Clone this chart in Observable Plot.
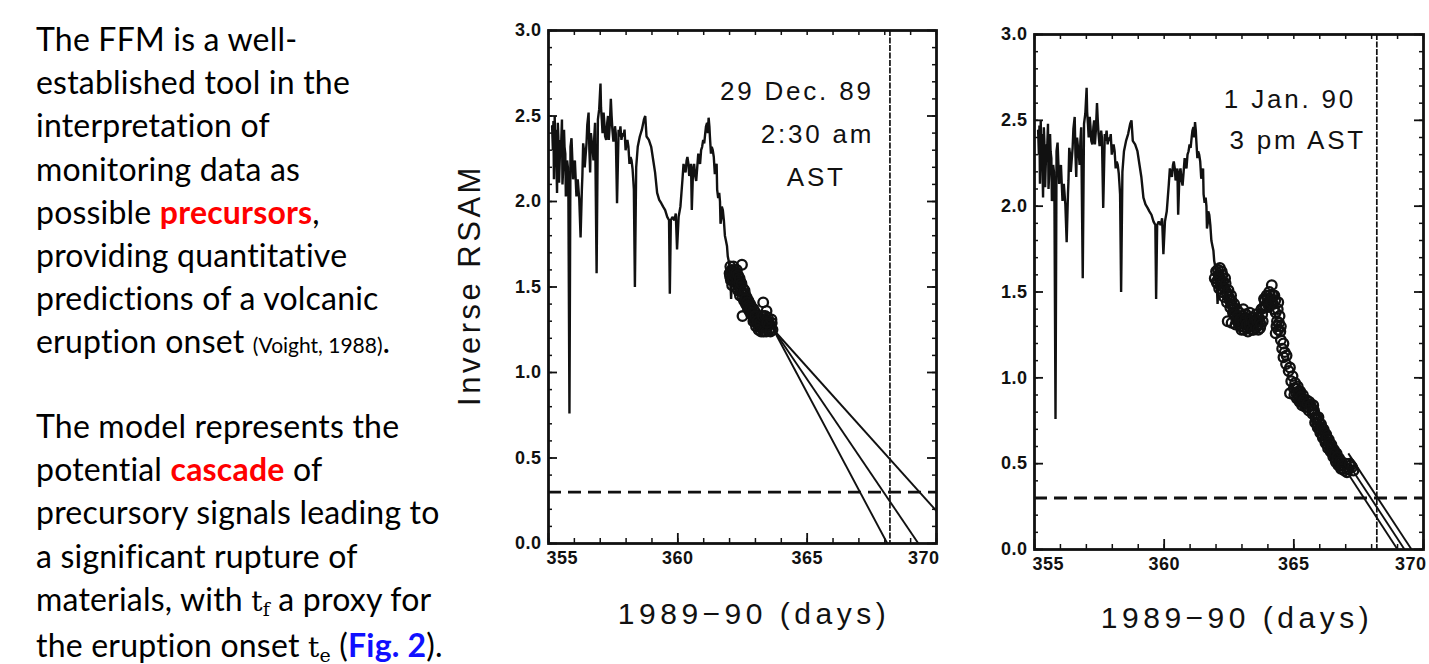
<!DOCTYPE html>
<html>
<head>
<meta charset="utf-8">
<script src="https://cdn.jsdelivr.net/npm/d3@7"></script>
<script src="https://cdn.jsdelivr.net/npm/@observablehq/plot@0.6"></script>
<style>
  html, body { margin: 0; padding: 0; background: #fff; }
  body { width: 1429px; height: 664px; position: relative; overflow: hidden; }
  .para { position: absolute; left: 36px; font-family: Lato, "Open Sans", sans-serif; font-size: 32px;
          letter-spacing: 0.2px; line-height: 43.2px; color: #000; white-space: nowrap; }
  .red { color: #ff0000; font-weight: bold; }
  .blue { color: #1010ff; font-weight: bold; }
  .sm { font-size: 21px; letter-spacing: 0; }
  .m { font-family: "DejaVu Serif", "Liberation Serif", serif; font-size: 28px; }
  .m sub { font-size: 19px; vertical-align: -5px; line-height: 0; }
  .chart { position: absolute; top: 0; }
  .title { position: absolute; font-family: "Liberation Sans", Arial, sans-serif; color: #111; white-space: nowrap; }
  #ylab { left: 470px; top: 285px; font-size: 31px; letter-spacing: 3.5px; transform: translate(-50%, -50%) rotate(-90deg); }
  .xlab { font-size: 30px; letter-spacing: 4.5px; transform: translate(-50%, -50%); }
  .chart g[aria-label="text"] text { letter-spacing: 2.8px; }
  .chart g[aria-label$="tick label"] text { letter-spacing: 0.5px; }
</style>
</head>
<body>
<div class="para" style="top:17px">
The FFM is a well-<br>
established tool in the<br>
interpretation of<br>
monitoring data as<br>
possible <span class="red">precursors</span>,<br>
providing quantitative<br>
predictions of a volcanic<br>
eruption onset <span class="sm">(Voight, 1988)</span>.
</div>
<div class="para" style="top:404px">
The model represents the<br>
potential <span class="red">cascade</span> of<br>
precursory signals leading to<br>
a significant rupture of<br>
materials, with <span class="m">t<sub>f</sub></span> a proxy for<br>
the eruption onset <span class="m">t<sub>e</sub></span> (<span class="blue">Fig. 2</span>).
</div>

<div id="ylab" class="title">Inverse RSAM</div>
<div class="title xlab" style="left:754px; top:614px">1989−90 (days)</div>
<div class="title xlab" style="left:1237px; top:618px">1989−90 (days)</div>

<div id="c1" class="chart" style="left:490px"></div>
<div id="c2" class="chart" style="left:975px"></div>

<script>
// ---------------- data ----------------
// Inverse RSAM record [day of 1989-90, value]: main trace
const rsamMain = [
  [355.14,2.44],[355.21,2.13],[355.24,2.50],[355.31,2.20],[355.36,2.46],[355.41,2.11],[355.46,2.36],[355.52,2.48],
  [355.57,2.20],[355.62,2.32],[355.67,2.03],[355.72,2.24],[355.77,2.01],[355.81,0.76],[355.85,2.32],[355.89,2.37],
  [355.95,2.13],[356.02,2.24],[356.08,2.03],[356.13,2.13],[356.19,2.01],[356.24,1.79],[356.29,2.07],[356.34,2.34],
  [356.40,2.20],[356.47,2.34],[356.55,2.52],[356.61,2.17],[356.68,2.34],[356.74,2.24],[356.80,2.46],[356.86,1.58],
  [356.91,2.48],[356.96,2.54],[357.01,2.69],[357.06,2.48],[357.13,2.52],[357.19,2.38],[357.27,2.46],[357.33,2.36],
  [357.41,2.60],[357.47,2.42],[357.54,2.38],[357.60,2.40],[357.65,1.99],[357.71,2.42],[357.78,2.44],[357.86,2.40],
  [357.94,2.42],[358.02,2.34],[358.09,2.32],[358.17,2.26],[358.25,2.19],[358.30,2.07],[358.34,1.50],[358.39,2.20],
  [358.45,2.32],[358.53,2.38],[358.61,2.42],[358.69,2.48],[358.74,2.50],[358.79,2.38],[358.88,2.36],[358.97,2.32],
  [359.05,2.24],[359.12,2.17],[359.20,2.05],[359.28,2.01],[359.36,1.99],[359.43,1.97],[359.51,1.95],[359.59,1.91],
  [359.66,1.89],[359.69,1.46],[359.73,1.89],[359.79,1.91],[359.87,1.89],[359.92,1.93],[359.97,1.72],[360.03,1.91],
  [360.10,1.97],[360.18,2.13],[360.26,2.19],[360.34,2.24],[360.41,2.22],[360.48,2.17],[360.54,1.95],[360.59,2.19],
  [360.67,2.15],[360.75,2.20],[360.82,2.24],[360.90,2.30],[360.98,2.36],[361.06,2.40],[361.13,2.46],[361.19,2.49],
  [361.24,2.38],[361.31,2.32],[361.39,2.26],[361.47,2.20],[361.52,2.07],[361.60,2.05],[361.65,1.87],[361.70,1.97],
  [361.78,1.89],[361.86,1.77],[361.93,1.68],[362.01,1.62],[362.06,1.43],[362.10,1.58]];
// fine jitter of the trace where it is drawn as a dense band
const rsamDetail = [
  [355.17,2.30],[355.19,2.47],[355.26,2.28],[355.28,2.42],[355.33,2.05],[355.38,2.38],[355.43,2.22],[355.49,2.34],
  [355.54,2.10],[355.60,2.42],[355.65,2.28],[355.70,2.06],[355.75,2.20],
  [356.31,2.15],[356.37,2.30],[356.43,2.26],[356.50,2.45],[356.58,2.30],[356.64,2.40],[356.71,2.30],[356.77,2.38],
  [357.03,2.55],[357.09,2.40],[357.16,2.46],[357.23,2.36],[357.30,2.50],[357.37,2.45],[357.44,2.50],[357.51,2.35],[357.57,2.44],
  [357.74,2.38],[357.82,2.36],[357.90,2.38],[357.98,2.30],[358.05,2.36],[358.13,2.22],[358.21,2.24],[358.28,2.12],
  [360.14,2.05],[360.22,2.22],[360.30,2.17],[360.37,2.26],[360.44,2.15],[360.51,2.22],
  [360.63,2.22],[360.71,2.12],[360.79,2.28],[360.86,2.22],[360.94,2.32],[361.02,2.34],[361.09,2.44],[361.16,2.40],
  [361.22,2.44],[361.28,2.28],[361.35,2.30],[361.43,2.16],[361.50,2.22],[361.56,2.02],[361.63,2.00],[361.68,1.90],
  [361.74,1.95],[361.82,1.80],[361.90,1.74]];

// Hourly points used in the forecast, panel 1 (29 Dec. 89): [day, inverse RSAM]
const points1 = [
  [362.00,1.58],[362.03,1.62],[362.05,1.54],[362.08,1.60],[362.10,1.51],[362.13,1.57],[362.15,1.62],[362.18,1.53],
  [362.20,1.58],[362.23,1.50],[362.25,1.55],[362.28,1.60],[362.30,1.52],[362.33,1.48],[362.35,1.56],[362.38,1.50],
  [362.40,1.45],[362.42,1.53],[362.45,1.48],[362.48,1.63],[362.50,1.33],[362.50,1.44],[362.53,1.49],[362.56,1.42],
  [362.60,1.46],[362.63,1.40],[362.66,1.44],[362.70,1.38],[362.73,1.42],[362.76,1.36],[362.80,1.40],[362.83,1.34],
  [362.86,1.38],[362.90,1.33],[362.93,1.37],[362.96,1.31],[363.00,1.35],[363.03,1.29],[363.06,1.33],[363.10,1.28],
  [363.13,1.32],[363.16,1.27],[363.20,1.31],[363.23,1.26],[363.26,1.30],[363.30,1.41],[363.30,1.27],[363.33,1.31],
  [363.36,1.26],[363.40,1.29],[363.43,1.36],[363.46,1.27],[363.50,1.30],[363.53,1.25],[363.56,1.28],[363.60,1.26],
  [363.63,1.29],[363.66,1.25],
  [362.02,1.56],[362.06,1.59],[362.09,1.56],[362.12,1.55],[362.16,1.57],[362.19,1.60],[362.22,1.56],[362.26,1.58],
  [362.29,1.54],[362.32,1.57],[362.36,1.53],[362.39,1.55],[362.43,1.50],[362.46,1.52],[362.55,1.46],[362.58,1.48],
  [362.62,1.43],[362.68,1.41],[362.72,1.39],[362.78,1.38],[362.82,1.37],[362.88,1.35],[362.92,1.30],[362.98,1.33],
  [363.02,1.27],[363.08,1.30],[363.12,1.25],[363.18,1.29],[363.22,1.24],[363.28,1.33],[363.32,1.24],[363.38,1.33],
  [363.42,1.24],[363.48,1.32],[363.52,1.28],[363.58,1.24],[363.62,1.31],[363.45,1.29]];

// Hourly points, panel 2 (1 Jan. 90): [day, inverse RSAM]
const points2 = [
  [361.95,1.58],[362.00,1.62],[362.05,1.55],[362.10,1.60],[362.12,1.52],[362.15,1.64],[362.20,1.57],[362.22,1.50],
  [362.25,1.60],[362.30,1.53],[362.32,1.47],[362.35,1.58],[362.40,1.50],[362.42,1.44],[362.45,1.33],[362.50,1.47],
  [362.55,1.41],[362.60,1.32],[362.60,1.45],[362.65,1.38],[362.70,1.43],[362.75,1.31],[362.75,1.36],[362.80,1.40],
  [362.85,1.33],[362.90,1.38],[362.95,1.30],[363.00,1.36],[363.05,1.40],[363.10,1.32],[363.15,1.37],[363.20,1.29],
  [363.25,1.34],[363.30,1.38],[363.35,1.30],[363.40,1.35],[363.45,1.28],[363.50,1.33],[363.55,1.37],[363.60,1.31],
  [363.65,1.35],[363.70,1.29],[363.75,1.40],[363.80,1.33],[363.85,1.46],[363.90,1.42],[363.95,1.48],[364.00,1.44],
  [364.05,1.50],[364.10,1.46],[364.15,1.54],[364.20,1.43],[364.25,1.48],[364.30,1.38],[364.30,1.26],[364.35,1.33],
  [364.40,1.44],[364.40,1.28],[364.45,1.36],[364.50,1.30],[364.50,1.22],[364.55,1.17],[364.60,1.20],[364.60,1.12],
  [364.65,1.15],[364.70,1.08],[364.72,1.13],[364.80,1.04],[364.85,0.91],[364.85,1.06],[364.90,0.98],[364.95,1.01],
  [365.00,0.94],[365.05,0.97],[365.10,0.91],[365.15,0.95],[365.20,0.88],[365.25,0.92],[365.30,0.86],[365.35,0.90],
  [365.40,0.85],[365.50,0.87],[365.55,0.83],[365.60,0.86],[365.70,0.82],[365.75,0.84],[365.80,0.79],[365.85,0.76],
  [365.90,0.73],[365.95,0.77],[366.00,0.70],[366.05,0.73],[366.10,0.67],[366.15,0.70],[366.20,0.64],[366.25,0.67],
  [366.30,0.61],[366.35,0.64],[366.40,0.59],[366.45,0.61],[366.50,0.56],[366.55,0.58],[366.60,0.53],[366.65,0.56],
  [366.70,0.51],[366.75,0.53],[366.80,0.49],[366.85,0.51],[366.90,0.47],[366.95,0.46],[367.00,0.50],[367.10,0.47],
  [367.20,0.49],[367.30,0.46],
  [362.02,1.56],[362.07,1.63],[362.12,1.58],[362.17,1.55],[362.22,1.62],[362.27,1.56],[362.33,1.52],[362.37,1.55],
  [362.43,1.48],[362.48,1.51],[362.53,1.45],[362.58,1.48],[362.63,1.42],[362.68,1.40],[362.72,1.37],[362.78,1.34],
  [362.83,1.36],[362.88,1.31],[362.93,1.34],[362.98,1.28],[363.03,1.32],[363.08,1.28],[363.13,1.34],[363.18,1.31],
  [363.23,1.27],[363.28,1.31],[363.33,1.35],[363.38,1.28],[363.43,1.32],[363.48,1.35],[363.53,1.29],[363.58,1.33],
  [363.63,1.28],[363.68,1.33],[363.73,1.31],[363.78,1.37],[363.83,1.41],[363.88,1.45],[363.93,1.41],[363.98,1.46],
  [364.03,1.42],[364.08,1.48],[364.13,1.44],[364.18,1.48],[364.23,1.40],[364.28,1.45],[364.33,1.30],[364.38,1.40],
  [364.43,1.32],[364.48,1.27],[365.02,0.90],[365.08,0.94],[365.12,0.88],[365.18,0.92],[365.22,0.86],[365.28,0.89],
  [365.32,0.84],[365.38,0.87],[365.45,0.83],[365.52,0.85],[365.58,0.81],[365.65,0.84],[365.72,0.79],[365.78,0.81],
  [365.82,0.74],[365.88,0.77],[365.92,0.71],[365.98,0.74],[366.02,0.68],[366.08,0.71],[366.12,0.65],[366.18,0.68],
  [366.22,0.62],[366.28,0.65],[366.32,0.59],[366.38,0.62],[366.42,0.57],[366.48,0.59],[366.52,0.54],[366.58,0.56],
  [366.62,0.51],[366.68,0.54],[366.72,0.49],[366.78,0.51],[366.82,0.47],[366.88,0.49],[367.05,0.45],[367.15,0.50],
  [367.25,0.48]];

// Failure-forecast lines (start day/value -> end day/value)
const fit1Start = [363.7, 363.7, 363.7], fit1StartValue = [1.25, 1.25, 1.25];
const fit1End = [368.1, 369.3, 370.0],  fit1EndValue = [0, 0, 0.19];
const fit2Start = [367.1, 367.1, 367.1], fit2StartValue = [0.44, 0.50, 0.56];
const fit2End = [369.0, 369.27, 369.54], fit2EndValue = [0, 0, 0];

const eruptionDay = 368.2;     // vertical line
const thresholdValue = 0.3;    // dashed level
const notes1 = ["29 Dec. 89", "2:30 am", "AST"];
const notes1Day = [364.6, 365.4, 365.35], notes1Value = [2.64, 2.39, 2.14];
const notes2 = ["1 Jan. 90", "3 pm AST"];
const notes2Day = [364.85, 365.15], notes2Value = [2.62, 2.38];

const xDomain = [355, 370], yDomain = [0, 3];
const yMajor = [0, 0.5, 1.0, 1.5, 2.0, 2.5, 3.0];
const yMinor = d3.range(0, 3.001, 0.1);
const xMajor = [355, 360, 365, 370];
const xMinor = d3.range(355, 370.01, 1);

// ---------------- drawing ----------------
const ink = "#111";
const series = d3.sort(rsamMain.concat(rsamDetail), d => d[0]).map(([day, v]) => ({day, v}));
function panel({width, height, mt, mr, mb, ml, points, fS, fSV, fE, fEV, notes, nDay, nValue}) {
  const fw = width - ml - mr, fh = height - mt - mb;
  const pts = points.map(([day, v]) => ({day, v}));
  const fits = fS.map((d, i) => ({x1: d, y1: fSV[i], x2: fE[i], y2: fEV[i]}));
  const ann = notes.map((t, i) => ({t, x: nDay[i], y: nValue[i]}));
  const tickFont = {fontSize: 18, fontWeight: "bold", fill: ink};
  return Plot.plot({
    width, height, marginTop: mt, marginRight: mr, marginBottom: mb, marginLeft: ml,
    x: {domain: xDomain, axis: null},
    y: {domain: yDomain, axis: null},
    style: {fontFamily: "'Liberation Sans', Arial, sans-serif", background: "transparent", color: ink, overflow: "visible"},
    marks: [
      Plot.ruleY([thresholdValue], {stroke: ink, strokeWidth: 2.8, strokeDasharray: "13,7"}),
      Plot.ruleX([eruptionDay], {stroke: ink, strokeWidth: 1.7, strokeDasharray: "6,1.5"}),
      Plot.line(series, {x: "day", y: "v", stroke: ink, strokeWidth: 2.4, strokeLinejoin: "miter"}),
      Plot.link(fits, {x1: "x1", y1: "y1", x2: "x2", y2: "y2", stroke: ink, strokeWidth: 1.9}),
      Plot.dot(pts, {x: "day", y: "v", r: 4.8, stroke: ink, strokeWidth: 2.3, fill: "none"}),
      // inward ticks: left, right, bottom, top
      Plot.tickY(yMinor, {y: d => d, stroke: ink, strokeWidth: 1.5, insetRight: fw - 4}),
      Plot.tickY(yMajor, {y: d => d, stroke: ink, strokeWidth: 1.8, insetRight: fw - 9}),
      Plot.tickY(yMinor, {y: d => d, stroke: ink, strokeWidth: 1.5, insetLeft: fw - 4}),
      Plot.tickY(yMajor, {y: d => d, stroke: ink, strokeWidth: 1.8, insetLeft: fw - 9}),
      Plot.tickX(xMinor, {x: d => d, stroke: ink, strokeWidth: 1.5, insetTop: fh - 5}),
      Plot.tickX(xMajor, {x: d => d, stroke: ink, strokeWidth: 1.8, insetTop: fh - 10}),
      Plot.tickX(xMinor, {x: d => d, stroke: ink, strokeWidth: 1.5, insetBottom: fh - 5}),
      Plot.frame({stroke: ink, strokeWidth: 2.8}),
      Plot.axisY(yMajor, {tickSize: 0, tickPadding: 7, tickFormat: d3.format(".1f"), label: null, ...tickFont}),
      Plot.axisX([360, 365], {tickSize: 0, tickPadding: 8, label: null, ...tickFont}),
      Plot.axisX([355], {tickSize: 0, tickPadding: 8, label: null, textAnchor: "start", dx: -2, ...tickFont}),
      Plot.axisX([370], {tickSize: 0, tickPadding: 8, label: null, textAnchor: "end", dx: 3, ...tickFont}),
      Plot.text(ann, {x: "x", y: "y", text: "t", fontSize: 26, fill: ink, textAnchor: "middle"})
    ]
  });
}

document.getElementById("c1").append(panel({
  width: 470, height: 580, mt: 30, mr: 24, mb: 37, ml: 58,
  points: points1,
  fS: fit1Start, fSV: fit1StartValue, fE: fit1End, fEV: fit1EndValue,
  notes: notes1, nDay: notes1Day, nValue: notes1Value
}));
document.getElementById("c2").append(panel({
  width: 454, height: 586, mt: 34, mr: 6, mb: 37, ml: 59,
  points: points2,
  fS: fit2Start, fSV: fit2StartValue, fE: fit2End, fEV: fit2EndValue,
  notes: notes2, nDay: notes2Day, nValue: notes2Value
}));
</script>
</body>
</html>
